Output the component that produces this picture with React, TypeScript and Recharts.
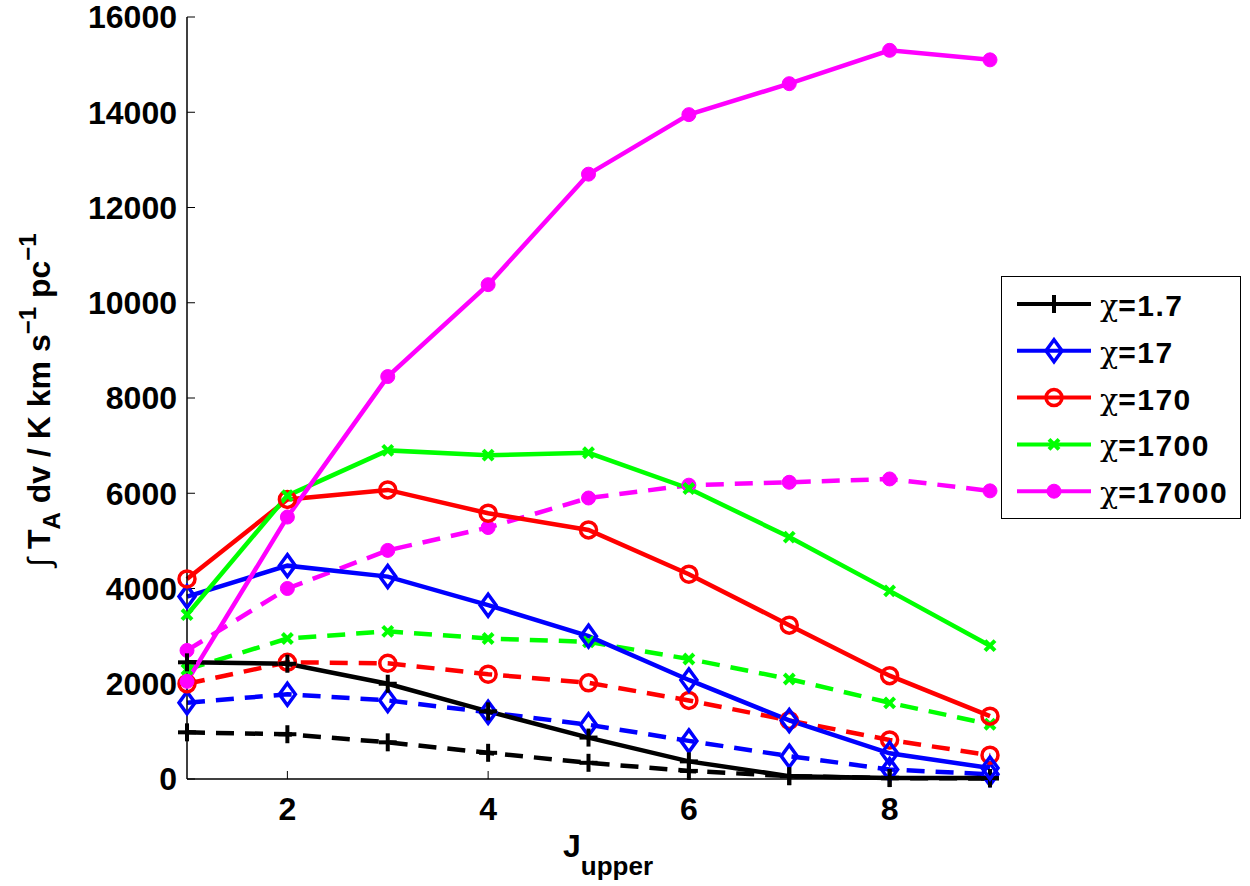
import React from "react";
import { LineChart, Line, XAxis, YAxis, Legend } from "recharts";

// J_upper levels
const jUpper = [1, 2, 3, 4, 5, 6, 7, 8, 9];

// solid lines
const chi1_7 = [2450, 2420, 2000, 1420, 870, 370, 60, 20, 20];
const chi17 = [3830, 4480, 4250, 3650, 3000, 2080, 1230, 540, 230];
const chi170 = [4200, 5870, 6070, 5580, 5230, 4300, 3230, 2170, 1320];
const chi1700 = [3450, 5950, 6900, 6800, 6850, 6100, 5080, 3950, 2800];
const chi17000 = [2050, 5500, 8450, 10380, 12700, 13950, 14600, 15300, 15100];

// dashed lines
const chi1_7d = [980, 940, 770, 550, 340, 170, 60, 20, 10];
const chi17d = [1600, 1780, 1650, 1400, 1140, 800, 480, 200, 100];
const chi170d = [2000, 2450, 2430, 2200, 2020, 1650, 1230, 820, 500];
const chi1700d = [2300, 2950, 3100, 2950, 2880, 2520, 2100, 1600, 1150];
const chi17000d = [2700, 4000, 4800, 5280, 5900, 6170, 6230, 6300, 6050];

const xTicks = [2, 4, 6, 8];
const yTicks = [0, 2000, 4000, 6000, 8000, 10000, 12000, 14000, 16000];

const series = [
  { key: "a", label: "1.7", color: "#000000", marker: "plus", solid: chi1_7, dashed: chi1_7d },
  { key: "b", label: "17", color: "#0000ff", marker: "diamond", solid: chi17, dashed: chi17d },
  { key: "c", label: "170", color: "#ff0000", marker: "circle", solid: chi170, dashed: chi170d },
  { key: "d", label: "1700", color: "#00ff00", marker: "cross", solid: chi1700, dashed: chi1700d },
  { key: "e", label: "17000", color: "#ff00ff", marker: "dot", solid: chi17000, dashed: chi17000d },
];

const rows = jUpper.map((j, i) => {
  const r: Record<string, number> = { j };
  for (const s of series) {
    r[s.key] = s.solid[i];
    r[s.key + "d"] = s.dashed[i];
  }
  return r;
});

const FONT = "'Liberation Sans', Arial, sans-serif";

function Marker({ cx, cy, kind, color }: { cx: number; cy: number; kind: string; color: string }) {
  if (cx == null || cy == null) return null;
  switch (kind) {
    case "plus":
      return (
        <g stroke={color} strokeWidth={4}>
          <line x1={cx - 9} y1={cy} x2={cx + 9} y2={cy} />
          <line x1={cx} y1={cy - 9} x2={cx} y2={cy + 9} />
        </g>
      );
    case "diamond":
      return (
        <polygon
          points={`${cx},${cy - 11} ${cx + 8},${cy} ${cx},${cy + 11} ${cx - 8},${cy}`}
          fill="none" stroke={color} strokeWidth={3.5}
        />
      );
    case "circle":
      return <circle cx={cx} cy={cy} r={8} fill="none" stroke={color} strokeWidth={3.5} />;
    case "cross":
      return (
        <g stroke={color} strokeWidth={4}>
          <line x1={cx - 5} y1={cy - 5} x2={cx + 5} y2={cy + 5} />
          <line x1={cx - 5} y1={cy + 5} x2={cx + 5} y2={cy - 5} />
        </g>
      );
    default:
      return <circle cx={cx} cy={cy} r={7} fill={color} stroke={color} />;
  }
}

function YLabel() {
  return (
    <text transform="translate(50,400) rotate(-90)" textAnchor="middle" fontFamily={FONT} fontWeight="bold" fontSize={32} fill="#000">
      <tspan fontWeight="normal">∫ </tspan>
      <tspan>T</tspan>
      <tspan fontSize={24} dy={10}>A</tspan>
      <tspan dy={-10}> dv / K km s</tspan>
      <tspan fontSize={24} dy={-14}>−1</tspan>
      <tspan dy={14}> pc</tspan>
      <tspan fontSize={24} dy={-14}>−1</tspan>
    </text>
  );
}

function XLabel() {
  return (
    <text x={563} y={857} fontFamily={FONT} fontWeight="bold" fontSize={32} fill="#000">
      <tspan>J</tspan>
      <tspan fontSize={26} dy={18}>upper</tspan>
    </text>
  );
}

function LegendBox() {
  return (
    <div style={{ width: 238, height: 241, border: "1.5px solid #000", background: "#fff" }}>
      <svg width={238} height={241}>
        {series.map((s, i) => {
          const cy = 27 + i * 46.8;
          return (
            <g key={s.key}>
              <line x1={15} y1={cy} x2={89} y2={cy} stroke={s.color} strokeWidth={4} />
              <Marker cx={52} cy={cy} kind={s.marker} color={s.color} />
              <text x={98} y={cy + 12} fill="#000">
                <tspan fontFamily="'DejaVu Serif', serif" fontSize={30}>χ</tspan>
                <tspan fontFamily={FONT} fontWeight="bold" fontSize={30} letterSpacing={1.5}>={s.label}</tspan>
              </text>
            </g>
          );
        })}
      </svg>
    </div>
  );
}

const tickStyle = { fontSize: 32, fontWeight: "bold", fill: "#000", fontFamily: FONT };

export default function App() {
  return (
    <div style={{ position: "fixed", left: 0, top: 0, background: "#fff" }}>
      <LineChart width={1250} height={886} data={rows} margin={{ top: 17, right: 260, bottom: 47, left: 67 }}>
        <XAxis
          dataKey="j" type="number" domain={[1, 9]} ticks={xTicks} height={60}
          tickSize={-8} tickMargin={26} tick={tickStyle}
          axisLine={{ stroke: "#000", strokeWidth: 1.5 }} tickLine={{ stroke: "#000" }}
          label={{ content: XLabel }}
        />
        <XAxis
          xAxisId="top" orientation="top" dataKey="j" type="number" domain={[1, 9]} ticks={xTicks} height={0}
          tickSize={-8} tick={false} axisLine={{ stroke: "#000", strokeWidth: 1.5 }} tickLine={{ stroke: "#000" }}
        />
        <YAxis
          type="number" domain={[0, 16000]} ticks={yTicks} width={120} interval={0}
          tickSize={-8} tickMargin={18} tick={tickStyle}
          axisLine={{ stroke: "#000", strokeWidth: 1.5 }} tickLine={{ stroke: "#000" }}
          label={{ content: YLabel }}
        />
        <YAxis
          yAxisId="r" orientation="right" type="number" domain={[0, 16000]} ticks={yTicks} width={0} interval={0}
          tickSize={-8} tick={false} axisLine={{ stroke: "#000", strokeWidth: 1.5 }} tickLine={{ stroke: "#000" }}
        />
        <Legend
          layout="vertical" align="center" verticalAlign="middle"
          content={() => <LegendBox />}
          wrapperStyle={{ position: "absolute", left: 1001, top: 276, width: 241, height: 244 }}
        />
        {series.map((s) => (
          <Line
            key={s.key + "d"} dataKey={s.key + "d"} stroke={s.color} strokeWidth={4.5} strokeDasharray="18 11"
            isAnimationActive={false} legendType="none"
            dot={(p: any) => <Marker key={`${s.key}d-${p.index}`} cx={p.cx} cy={p.cy} kind={s.marker} color={s.color} />}
          />
        ))}
        {series.map((s) => (
          <Line
            key={s.key} dataKey={s.key} stroke={s.color} strokeWidth={4.5}
            isAnimationActive={false}
            dot={(p: any) => <Marker key={`${s.key}-${p.index}`} cx={p.cx} cy={p.cy} kind={s.marker} color={s.color} />}
          />
        ))}
      </LineChart>
    </div>
  );
}
